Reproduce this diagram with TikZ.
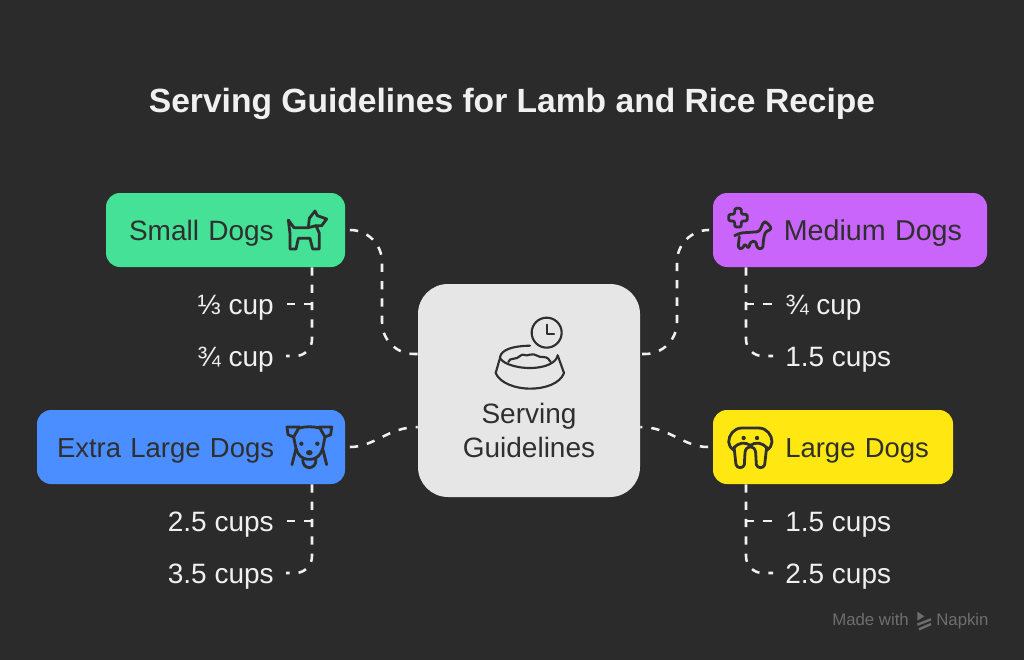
\documentclass[tikz,border=0pt]{standalone}
\usepackage{fontspec}
\setmainfont{Liberation Sans}
\usetikzlibrary{calc}
\definecolor{bgdark}{HTML}{2B2B2B}
\definecolor{inkdark}{HTML}{2F2F2F}
\definecolor{textlight}{HTML}{F0F0F0}
\definecolor{smallgreen}{HTML}{44E196}
\definecolor{mediumpurple}{HTML}{C965FA}
\definecolor{xlblue}{HTML}{4B8EFF}
\definecolor{largeyellow}{HTML}{FFE811}
\definecolor{centergrey}{HTML}{E6E6E6}
\definecolor{wmgrey}{HTML}{6E6E6E}
\begin{document}
\begin{tikzpicture}[x=.75pt,y=-.75pt,%
            mybox/.style={shape=rectangle, rounded corners=10.5pt, minimum height=55.5pt,
                inner ysep=0pt, text=inkdark, text height=15pt, text depth=0pt,
                font=\fontsize{21}{25}\selectfont},
            myleaf/.style={text=textlight, inner sep=0pt, text height=15pt, text depth=0pt,
                font=\fontsize{21}{25}\selectfont},
            mylink/.style={draw=textlight, line width=1.9pt, dash pattern=on 6.2pt off 6.8pt},
            myicon/.style={draw=inkdark, line width=2.1pt, line join=round, line cap=round},
            mywm/.style={text=wmgrey, inner sep=0pt, anchor=base west, font=\fontsize{12.6}{15}\selectfont},
            zoomed/.style={x=.25pt,y=-.25pt}
    ]
    \fill [bgdark] (0,0) rectangle (1024,660);
    \useasboundingbox (0,0) rectangle (1024,660);

    \node [text=textlight, font=\fontsize{25.2}{30}\bfseries\selectfont] (title) at (512,103.5)
        {Serving Guidelines for Lamb and Rice Recipe};

    \node [mybox, fill=smallgreen, text width=144.75pt, inner xsep=17.25pt, align=left]
        (small) at (225.5,230) {Small Dogs};
    \node [mybox, fill=mediumpurple, text width=168pt, inner xsep=18.75pt, align=right]
        (medium) at (850,230) {\fontsize{21.5}{25}\selectfont Medium Dogs};
    \node [mybox, fill=xlblue, text width=201pt, inner xsep=15pt, align=left]
        (xl) at (191,447) {\fontsize{20.6}{25}\selectfont Extra Large Dogs};
    \node [mybox, fill=largeyellow, text width=144pt, inner xsep=18pt, align=right]
        (large) at (833,447) {\fontsize{20.6}{25}\selectfont Large Dogs};
    \node [shape=rectangle, rounded corners=22.5pt, fill=centergrey, minimum width=166.5pt,
        minimum height=159.75pt] (serving) at (529,390.5) {};
    \node [text=inkdark, align=center, inner sep=0pt, font=\fontsize{21}{25.5}\selectfont]
        (servinglabel) at (529,430) {Serving\\Guidelines};

    \foreach \n/\y/\txt in {a/304/⅓ cup,b/356/¾ cup,c/521/2.5 cups,d/573/3.5 cups}
        \node [myleaf, anchor=east] (\n) at (274,\y) {\txt};
    \foreach \n/\y/\txt in {e/304/¾ cup,f/356/1.5 cups,g/521/1.5 cups,h/573/2.5 cups}
        \node [myleaf, anchor=west] (\n) at (785,\y) {\txt};

    % center links
    \draw [mylink, rounded corners=24pt, shorten <=3.5pt] (small.east) -- (382,230) -- (382,354) -- ($(serving.west)+(0,-36.5)$);
    \draw [mylink, rounded corners=24pt, shorten <=3.5pt] (medium.west) -- (677,230) -- (677,354) -- ($(serving.east)+(0,-36.5)$);
    \draw [mylink, shorten <=3.5pt] (xl.east) to [out=0,in=180] ($(serving.west)+(0,36.5)$);
    \draw [mylink, shorten <=3.5pt] (large.west) to [out=180,in=0] ($(serving.east)+(0,36.5)$);

    % leaf links
    \foreach \top/\x/\one/\two/\side in {small/312/a/b/east,xl/312/c/d/east,medium/746/e/f/west,large/746/g/h/west} {
        \draw [mylink, rounded corners=12.5pt, shorten >=9pt] (\x,0 |- \top.south) -- (\x,0 |- \two.\side) -- (\two.\side);
        \draw [mylink, shorten >=9.75pt] (\x,0 |- \one.\side) -- (\one.\side);
    }

    % dog icons
    \begin{scope}[shift={(280,205)},zoomed]
        \draw [myicon] (25,45) -- (42,68) -- (85,68) -- (88,40) -- (105,18) -- (112,32) -- (140,42)
            -- (125,62) -- (108,62) -- (118,85) -- (118,132) -- (98,132) -- (90,100) -- (55,100)
            -- (48,132) -- (30,132) -- (30,85) -- cycle;
        \draw [myicon] (85,68) -- (108,62);
    \end{scope}
    \begin{scope}[shift={(722,205)},zoomed]
        \draw [myicon, rounded corners=1.5pt] (38,10) -- (58,10) -- (58,28) -- (76,28) -- (76,48) -- (58,48)
            -- (58,66) -- (38,66) -- (38,48) -- (20,48) -- (20,28) -- (38,28) -- cycle;
        \draw [myicon, rounded corners=2pt] (38,92) -- (55,84) -- (112,80) -- (125,50) -- (135,52) -- (150,72)
            -- (130,80) -- (125,100) -- (122,132) -- (105,130) -- (102,108) -- (85,110) -- (80,132)
            -- (68,115) -- (62,132) -- (48,130) -- (52,95);
    \end{scope}
    \begin{scope}[shift={(282,422)},zoomed]
        \draw [myicon] (15,15) -- (52,15) -- (35,45) -- (18,38) -- cycle;
        \draw [myicon] (149,15) -- (112,15) -- (129,45) -- (146,38) -- cycle;
        \draw [myicon] (52,18) .. controls (70,13) and (94,13) .. (112,18);
        \draw [myicon] (30,128) -- (42,80) -- (35,45);
        \draw [myicon] (134,128) -- (122,80) -- (129,45);
        \draw [myicon] (42,80) .. controls (48,100) and (60,112) .. (82,112) .. controls (104,112) and (116,100) .. (122,80);
        \draw [myicon] (62,113) .. controls (62,145) and (102,145) .. (102,113);
        \fill [inkdark] (58,65) circle (6.5) (106,65) circle (6.5) (82,92) ellipse (10 and 8);
    \end{scope}
    \begin{scope}[shift={(722,422)},zoomed]
        \draw [myicon] (36,85) .. controls (26,78) and (20,70) .. (20,60) .. controls (20,40) and (35,18) .. (60,18)
            -- (110,18) .. controls (135,18) and (150,40) .. (150,60) .. controls (150,70) and (144,78) .. (134,85);
        \draw [myicon] (36,75) -- (42,128) .. controls (45,140) and (64,140) .. (67,128)
            -- (69,92) .. controls (71,68) and (99,68) .. (101,92)
            -- (103,128) .. controls (106,140) and (125,140) .. (128,128) -- (134,75);
        \draw [myicon] (36,78) .. controls (50,60) and (70,60) .. (85,70) .. controls (100,60) and (120,60) .. (134,78);
        \fill [inkdark] (65,48) circle (6.5) (105,48) circle (6.5);
    \end{scope}

    % bowl icon
    \begin{scope}[shift={(490,312)},zoomed]
        \draw [myicon, line width=1.6pt] (170,62) circle (45);
        \draw [myicon, line width=1.6pt] (172,38) -- (172,65) -- (192,65);
        \draw [myicon, line width=1.6pt] (120,101) .. controls (70,102) and (35,112) .. (30,135)
            .. controls (30,150) and (70,168) .. (120,168) .. controls (170,168) and (200,150) .. (203,130);
        \draw [myicon, line width=1.6pt] (30,138) -- (17,183) .. controls (30,215) and (80,230) .. (120,230)
            .. controls (165,230) and (210,215) .. (222,183) -- (203,130);
        \draw [myicon, line width=1.6pt] (55,150) .. controls (58,135) and (80,145) .. (90,132)
            .. controls (100,122) and (105,135) .. (120,128) .. controls (135,122) and (145,138) .. (160,135)
            .. controls (172,135) and (178,142) .. (182,150);
    \end{scope}

    % watermark
    \node [mywm] (made) at (832,625.5) {Made with};
    \node [mywm] (napkin) at (936,625.5) {Napkin};
    \begin{scope}[shift={(825,605)},zoomed]
        \fill [wmgrey] (277,20) -- (298,34) -- (277,47) -- cycle;
        \draw [wmgrey, line width=1.8pt] (277,59) -- (318,43) (282,73) -- (318,57);
    \end{scope}
\end{tikzpicture}
\end{document}
